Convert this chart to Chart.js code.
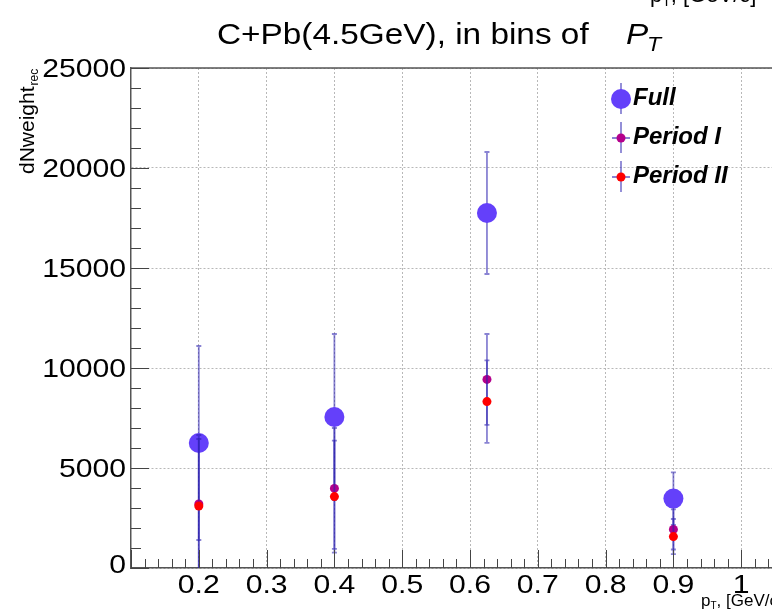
<!DOCTYPE html>
<html>
<head>
<meta charset="utf-8">
<script src="https://cdn.jsdelivr.net/npm/chart.js@4.4.1/dist/chart.umd.min.js"></script>
<style>
  html, body { margin: 0; padding: 0; background: #fff; overflow: hidden; width: 772px; height: 610px; }
  #wrap { position: absolute; left: 0; top: 0; width: 830px; height: 610px; }
</style>
</head>
<body>
<div id="wrap"><canvas id="c" width="830" height="610"></canvas></div>
<script>
// Bin centres in pT [GeV/c]
const pt = [0.2, 0.4, 0.625, 0.9];

// Reconstructed weights per pT bin, with symmetric errors
const seriesNames = ['Full', 'Period I', 'Period II'];
const fullVals    = [6250, 7550, 17750, 3470];
const fullErrs    = [4850, 4150, 3050, 1310];
const period1Vals = [3200, 3980, 9430, 1930];
const period1Errs = [3450, 3020, 2270, 1005];
const period2Vals = [3100, 3570, 8320, 1570];
const period2Errs = [3350, 2800, 2060, 880];

// Axis ticks
const yTickValues = [0, 5000, 10000, 15000, 20000, 25000];
const yTickLabels = ['0', '5000', '10000', '15000', '20000', '25000'];
const xTickValues = [0.2, 0.3, 0.4, 0.5, 0.6, 0.7, 0.8, 0.9, 1.0];
const xTickLabels = ['0.2', '0.3', '0.4', '0.5', '0.6', '0.7', '0.8', '0.9', '1'];
const yMinorStep = 1000;
const xMinorStep = 0.02;

const FONT = '"Liberation Sans", Arial, Helvetica, sans-serif';
const STRETCH = 1.16;
const ERR_COLOR = 'rgba(40,30,175,0.55)';

function toPoints(xs, ys) { return xs.map((v, i) => ({ x: v, y: ys[i] })); }

function stretchedText(ctx, text, x, y, align, font, stretch) {
  ctx.save();
  ctx.font = font;
  ctx.fillStyle = '#000';
  ctx.textBaseline = 'alphabetic';
  ctx.translate(x, y);
  ctx.scale(stretch, 1);
  ctx.textAlign = align;
  ctx.fillText(text, 0, 0);
  ctx.restore();
}

function drawErrorBars(chart, ds) {
  const { ctx, chartArea: a, scales: { x, y } } = chart;
  ctx.save();
  ctx.beginPath();
  ctx.rect(a.left, a.top, a.right - a.left, a.bottom - a.top);
  ctx.clip();
  ctx.strokeStyle = ds.errorColor;
  ctx.lineWidth = 1.8;
  ds.data.forEach((p, i) => {
    const e = ds.errors[i];
    const px = x.getPixelForValue(p.x);
    const hi = p.y + e, lo = p.y - e;
    const top = y.getPixelForValue(hi);
    const bot = y.getPixelForValue(Math.max(lo, y.min));
    ctx.beginPath();
    ctx.moveTo(px, top); ctx.lineTo(px, bot);
    ctx.moveTo(px - 2.5, top); ctx.lineTo(px + 2.5, top);
    if (lo > y.min) { ctx.moveTo(px - 2.5, bot); ctx.lineTo(px + 2.5, bot); }
    ctx.stroke();
  });
  ctx.restore();
}

const decorations = {
  id: 'decorations',
  beforeDatasetDraw(chart, args) {
    drawErrorBars(chart, chart.data.datasets[args.index]);
  },
  afterDraw(chart) {
    const { ctx, chartArea: a, scales: { x, y } } = chart;

    // top frame line
    ctx.save();
    ctx.strokeStyle = '#555';
    ctx.lineWidth = 1.5;
    ctx.beginPath();
    ctx.moveTo(a.left, a.top); ctx.lineTo(a.right, a.top);
    ctx.stroke();

    // inward tick marks
    ctx.strokeStyle = '#444';
    ctx.lineWidth = 1;
    ctx.beginPath();
    for (let v = y.min; v <= y.max + 1e-6; v += yMinorStep) {
      const py = Math.round(y.getPixelForValue(v)) + 0.5;
      const major = yTickValues.includes(v);
      ctx.moveTo(a.left, py); ctx.lineTo(a.left + (major ? 18 : 10), py);
    }
    const nMinor = Math.round((x.max - x.min) / xMinorStep);
    for (let k = 0; k <= nMinor; k++) {
      const v = x.min + k * xMinorStep;
      const px = Math.round(x.getPixelForValue(v)) + 0.5;
      const major = k % 5 === 0;
      ctx.moveTo(px, a.bottom); ctx.lineTo(px, a.bottom - (major ? 18 : 9));
    }
    ctx.stroke();
    ctx.restore();

    // tick labels
    const tickFont = '26px ' + FONT;
    yTickValues.forEach((v, i) => {
      const py = y.getPixelForValue(v);
      const shift = v === 0 ? -4 : 0;
      stretchedText(ctx, yTickLabels[i], a.left - 5, py + 9.3 + shift, 'right', tickFont, STRETCH);
    });
    xTickValues.forEach((v, i) => {
      const px = x.getPixelForValue(v);
      stretchedText(ctx, xTickLabels[i], px, a.bottom + 25, 'center', tickFont, STRETCH);
    });

    // title
    stretchedText(ctx, 'C+Pb(4.5GeV), in bins of', 217, 44, 'left', '29px ' + FONT, 1.15);
    stretchedText(ctx, 'P', 626, 44, 'left', 'italic 29px ' + FONT, 1.15);
    stretchedText(ctx, 'T', 647, 51, 'left', 'italic 20px ' + FONT, 1.15);

    // y-axis title
    ctx.save();
    ctx.fillStyle = '#000';
    ctx.translate(34, 174);
    ctx.rotate(-Math.PI / 2);
    ctx.textAlign = 'left';
    ctx.font = '21px ' + FONT;
    ctx.fillText('dNweight', 0, 0);
    const w1 = ctx.measureText('dNweight').width;
    ctx.font = '12px ' + FONT;
    ctx.fillText('rec', w1 + 1, 4);
    ctx.restore();

    // pT axis title
    const drawPtTitle = (x0, base, big, small) => {
      ctx.save();
      ctx.fillStyle = '#000';
      ctx.textAlign = 'left';
      ctx.font = big + 'px ' + FONT;
      ctx.fillText('p', x0, base);
      let cx = x0 + ctx.measureText('p').width;
      ctx.font = small + 'px ' + FONT;
      ctx.fillText('T', cx, base + small * 0.3);
      cx += ctx.measureText('T').width;
      ctx.font = big + 'px ' + FONT;
      ctx.fillText(', [GeV/c]', cx, base);
      ctx.restore();
    };
    drawPtTitle(701, 606, 17, 10);
    // axis title of the neighbouring pad, cut at the top edge
    drawPtTitle(650, 2, 22, 14);

    // legend
    const rows = [99, 138, 177];
    chart.data.datasets.forEach((ds, i) => {
      const cy = rows[i], cx = 621;
      ctx.save();
      ctx.strokeStyle = ERR_COLOR;
      ctx.lineWidth = 1.8;
      ctx.beginPath();
      ctx.moveTo(cx, cy - 16); ctx.lineTo(cx, cy + 15);
      if (ds.pointRadius < 8) { ctx.moveTo(cx - 9, cy); ctx.lineTo(cx + 9, cy); }
      ctx.stroke();
      ctx.fillStyle = ds.pointBackgroundColor;
      ctx.beginPath();
      ctx.arc(cx, cy, ds.pointRadius, 0, Math.PI * 2);
      ctx.fill();
      ctx.fillStyle = '#000';
      ctx.font = 'italic bold 24px ' + FONT;
      ctx.textAlign = 'left';
      ctx.fillText(ds.label, 633, cy + 6);
      ctx.restore();
    });
  }
};

new Chart(document.getElementById('c'), {
  type: 'scatter',
  data: {
    datasets: [
      { label: seriesNames[0], data: toPoints(pt, fullVals), errors: fullErrs, order: 3,
        pointRadius: 10, pointBackgroundColor: '#6440fa', pointBorderWidth: 0, errorColor: ERR_COLOR },
      { label: seriesNames[1], data: toPoints(pt, period1Vals), errors: period1Errs, order: 2,
        pointRadius: 4.5, pointBackgroundColor: '#b4008c', pointBorderWidth: 0, errorColor: ERR_COLOR },
      { label: seriesNames[2], data: toPoints(pt, period2Vals), errors: period2Errs, order: 1,
        pointRadius: 4.5, pointBackgroundColor: '#ff0000', pointBorderWidth: 0, errorColor: ERR_COLOR }
    ]
  },
  options: {
    responsive: false,
    animation: false,
    devicePixelRatio: 1,
    events: [],
    layout: { padding: { top: 68, right: 21, bottom: 0, left: 0 } },
    plugins: { legend: { display: false }, title: { display: false }, tooltip: { enabled: false } },
    scales: {
      x: {
        type: 'linear', min: 0.1, max: 1.1,
        afterBuildTicks: s => { s.ticks = xTickValues.map(v => ({ value: v })); },
        afterFit: s => { s.height = 42; },
        ticks: { display: false },
        grid: { color: '#b8b8b8', lineWidth: 1, drawTicks: false },
        border: { display: true, color: '#555', width: 1.5, dash: [2, 2] }
      },
      y: {
        type: 'linear', min: 0, max: 25000,
        afterBuildTicks: s => { s.ticks = yTickValues.map(v => ({ value: v })); },
        afterFit: s => { s.width = 131; },
        ticks: { display: false },
        grid: { color: '#b8b8b8', lineWidth: 1, drawTicks: false },
        border: { display: true, color: '#555', width: 1.5, dash: [2, 2] }
      }
    }
  },
  plugins: [decorations]
});
</script>
</body>
</html>
